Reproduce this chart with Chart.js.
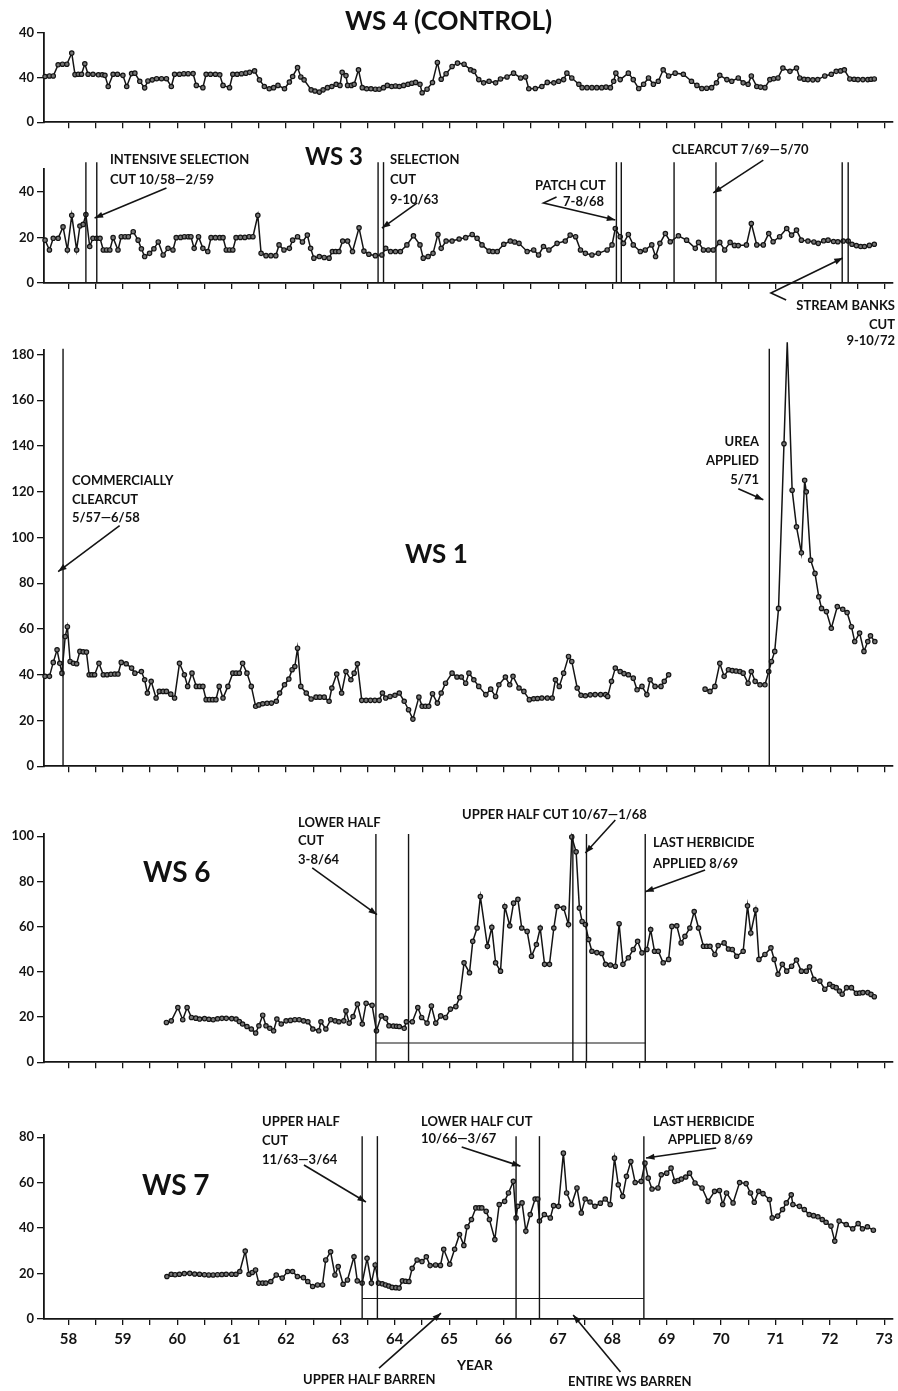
<!DOCTYPE html>
<html>
<head>
<meta charset="utf-8">
<script src="https://cdn.jsdelivr.net/npm/chart.js@4.4.1/dist/chart.umd.min.js"></script>
<style>
  body { margin: 0; background: #fff; width: 898px; height: 1391px; position: relative; overflow: hidden; font-family: Lato, 'DejaVu Sans', sans-serif; color: #111; }
  canvas { position: absolute; left: 0; }
  .t { position: absolute; font-weight: 700; font-size: 13px; line-height: 1; white-space: nowrap; }
  .r { text-align: right; }
  .big { font-size: 26px; }
</style>
</head>
<body>
<canvas id="ws4"></canvas>
<canvas id="ws3"></canvas>
<canvas id="ws1"></canvas>
<canvas id="ws6"></canvas>
<canvas id="ws7"></canvas>

<div class="t big" style="left:345px;top:7px">WS 4 (CONTROL)</div>

<div class="t big" style="left:305px;top:144px;font-size:24px">WS 3</div>
<div class="t" style="left:110px;top:153px">INTENSIVE SELECTION</div>
<div class="t" style="left:110px;top:173px">CUT 10/58—2/59</div>
<div class="t" style="left:390px;top:153px">SELECTION</div>
<div class="t" style="left:390px;top:173px">CUT</div>
<div class="t" style="left:390px;top:193px">9-10/63</div>
<div class="t" style="left:535px;top:179px">PATCH CUT</div>
<div class="t" style="left:563px;top:195px">7-8/68</div>
<div class="t" style="left:672px;top:143px">CLEARCUT 7/69—5/70</div>
<div class="t r" style="right:3px;top:299px">STREAM BANKS</div>
<div class="t r" style="right:3px;top:318px">CUT</div>
<div class="t r" style="right:3px;top:334px">9-10/72</div>

<div class="t big" style="left:405px;top:540px">WS 1</div>
<div class="t" style="left:72px;top:474px">COMMERCIALLY</div>
<div class="t" style="left:72px;top:493px">CLEARCUT</div>
<div class="t" style="left:72px;top:511px">5/57—6/58</div>
<div class="t r" style="right:139px;top:435px">UREA</div>
<div class="t r" style="right:139px;top:454px">APPLIED</div>
<div class="t r" style="right:139px;top:473px">5/71</div>

<div class="t big" style="left:143px;top:857px;font-size:28px">WS 6</div>
<div class="t" style="left:298px;top:816px">LOWER HALF</div>
<div class="t" style="left:298px;top:834px">CUT</div>
<div class="t" style="left:298px;top:853px">3-8/64</div>
<div class="t" style="left:462px;top:808px">UPPER HALF CUT 10/67—1/68</div>
<div class="t" style="left:653px;top:836px">LAST HERBICIDE</div>
<div class="t" style="left:653px;top:857px">APPLIED 8/69</div>

<div class="t big" style="left:142px;top:1170px;font-size:28px">WS 7</div>
<div class="t" style="left:262px;top:1115px">UPPER HALF</div>
<div class="t" style="left:262px;top:1134px">CUT</div>
<div class="t" style="left:262px;top:1153px">11/63—3/64</div>
<div class="t" style="left:421px;top:1115px">LOWER HALF CUT</div>
<div class="t" style="left:421px;top:1132px">10/66—3/67</div>
<div class="t" style="left:653px;top:1115px">LAST HERBICIDE</div>
<div class="t" style="left:668px;top:1133px">APPLIED 8/69</div>
<div class="t" style="left:457px;top:1358px;font-size:14px">YEAR</div>
<div class="t" style="left:303px;top:1373px">UPPER HALF BARREN</div>
<div class="t" style="left:568px;top:1375px">ENTIRE WS BARREN</div>

<script>
// year ticks (every half year, labels on whole years)
const halfYearTicks = [58, 58.5, 59, 59.5, 60, 60.5, 61, 61.5, 62, 62.5, 63, 63.5, 64, 64.5, 65, 65.5, 66, 66.5, 67, 67.5, 68, 68.5, 69, 69.5, 70, 70.5, 71, 71.5, 72, 72.5, 73];
const yearLabels = ['58', '59', '60', '61', '62', '63', '64', '65', '66', '67', '68', '69', '70', '71', '72', '73'];

const ws4Ticks = [0, 40, 80];
const ws4TickLabels = ['0', '40', '40'];
const ws3Ticks = [0, 20, 40];
const ws1Ticks = [0, 20, 40, 60, 80, 100, 120, 140, 160, 180];
const ws6Ticks = [0, 20, 40, 60, 80, 100];
const ws7Ticks = [0, 20, 40, 60, 80];

// [year, value]
const ws4Flow = [[57.57,41],[57.65,41.5],[57.72,41.5],[57.81,51.5],[57.89,52],[57.97,52],[58.06,62],[58.12,42.7],[58.18,43],[58.24,43],[58.30,52.4],[58.36,43],[58.45,43],[58.55,42.5],[58.62,42.5],[58.67,42],[58.73,32],[58.82,43],[58.90,43],[59.00,42],[59.07,32],[59.16,43.6],[59.22,44],[59.31,36.7],[59.40,30.8],[59.46,37],[59.54,38],[59.62,39],[59.71,39],[59.80,39],[59.89,32],[59.95,43],[60.04,43],[60.12,43.5],[60.20,43.5],[60.29,43.6],[60.35,33],[60.47,31],[60.53,43],[60.61,43],[60.70,43],[60.78,42.5],[60.84,33],[60.96,31],[61.02,43],[61.10,43],[61.18,43.5],[61.26,44],[61.33,44.7],[61.42,46],[61.51,38],[61.60,32],[61.69,30],[61.77,31],[61.85,33],[61.97,30],[62.06,36],[62.12,41],[62.21,49],[62.27,40.6],[62.33,38],[62.46,29],[62.53,28],[62.61,27],[62.68,29],[62.76,31],[62.84,32],[62.92,34],[62.99,33],[63.03,44.7],[63.10,41.8],[63.13,33],[63.20,33],[63.25,34],[63.33,47],[63.40,31],[63.48,30],[63.56,30],[63.64,29.6],[63.71,29.6],[63.79,31],[63.86,33],[63.94,32],[64.01,32.5],[64.08,32],[64.16,33],[64.24,34],[64.31,35],[64.38,35.7],[64.46,34],[64.50,26.4],[64.59,29.6],[64.69,35.6],[64.78,53.6],[64.85,38.5],[64.94,43.5],[65.05,50],[65.15,53],[65.27,52],[65.39,47],[65.45,45.6],[65.54,38.2],[65.63,35.3],[65.73,36.7],[65.85,35.3],[65.94,38.8],[66.06,40.6],[66.18,44],[66.31,39.7],[66.40,40.6],[66.46,30],[66.58,30.2],[66.70,32],[66.80,35.7],[66.92,35.3],[67.01,36.7],[67.10,38.2],[67.16,44],[67.25,39.7],[67.38,34],[67.44,31],[67.53,31],[67.62,31],[67.71,31],[67.80,31],[67.88,31.5],[67.96,31],[68.02,36.7],[68.06,44],[68.14,38.2],[68.29,44],[68.38,38.2],[68.48,30.2],[68.57,34],[68.66,39.7],[68.75,34],[68.84,36.7],[68.93,47],[69.03,41.5],[69.15,44],[69.30,43],[69.45,36.7],[69.55,33],[69.64,30.2],[69.73,30.5],[69.82,31],[69.91,35.3],[69.97,42],[70.10,38.2],[70.19,36.7],[70.31,39.7],[70.40,35.3],[70.49,34],[70.55,41.5],[70.65,32],[70.72,31.5],[70.80,31],[70.89,38.2],[70.96,39],[71.04,39.7],[71.13,48.6],[71.26,45.6],[71.38,48.6],[71.44,39.7],[71.52,38.5],[71.59,38.2],[71.68,38],[71.77,38.2],[71.90,41.5],[72.02,43],[72.11,45.6],[72.19,46],[72.26,47],[72.36,38.8],[72.44,38.5],[72.51,38.2],[72.60,38.2],[72.69,38.2],[72.75,38.5],[72.81,38.8]];

const ws3Flow = [[57.57,18.8],[57.65,14.5],[57.72,19.6],[57.81,19.6],[57.90,24.6],[57.98,14.5],[58.06,29.7],[58.15,14.5],[58.21,25],[58.27,25.7],[58.32,30],[58.39,16],[58.45,19.6],[58.52,19.6],[58.58,19.6],[58.64,14.5],[58.70,14.5],[58.76,14.5],[58.82,19.9],[58.91,14.5],[58.97,20.3],[59.04,20.3],[59.10,20.3],[59.19,22.5],[59.28,18.8],[59.34,15],[59.40,11.6],[59.49,13],[59.57,15],[59.65,18],[59.74,12.3],[59.83,15.2],[59.92,14.5],[59.98,19.9],[60.06,20],[60.13,20.3],[60.20,20.3],[60.25,20.3],[60.31,15.2],[60.39,20.3],[60.47,15.2],[60.56,13.8],[60.62,19.9],[60.70,19.9],[60.78,19.9],[60.84,19.9],[60.90,14.5],[60.96,14.5],[61.02,14.5],[61.08,19.9],[61.16,20],[61.24,20],[61.32,20.3],[61.39,20.3],[61.48,29.7],[61.54,13],[61.63,12],[61.72,12],[61.81,12],[61.87,16.7],[61.96,14.5],[62.06,15.2],[62.12,18.8],[62.21,20.3],[62.30,18],[62.39,21],[62.45,15.2],[62.51,10.9],[62.61,11.6],[62.70,11.2],[62.79,10.9],[62.85,13.8],[62.91,13.8],[62.97,13.8],[63.04,18.4],[63.13,18.4],[63.22,13.8],[63.34,24.2],[63.43,14],[63.52,12.6],[63.64,12],[63.76,12.3],[63.83,15.2],[63.92,13.8],[64.01,13.8],[64.10,13.8],[64.22,16.7],[64.34,20.7],[64.46,16.7],[64.52,10.9],[64.61,11.6],[64.70,13],[64.79,21.3],[64.85,15.2],[64.94,18.4],[65.05,18.4],[65.18,19.3],[65.30,19.9],[65.42,21.3],[65.51,19.6],[65.60,16.7],[65.73,14],[65.80,13.8],[65.88,13.8],[66.00,17],[66.12,18.4],[66.20,18],[66.28,17.4],[66.43,13.8],[66.55,14.5],[66.64,12.3],[66.73,16],[66.83,14.5],[66.98,17.4],[67.13,18.4],[67.22,21],[67.32,20.3],[67.41,14.5],[67.50,13],[67.62,12.3],[67.74,13],[67.90,14.5],[67.99,16.7],[68.05,23.9],[68.14,20.3],[68.20,17.4],[68.29,21.3],[68.38,16.7],[68.51,13.8],[68.60,14.5],[68.72,16.7],[68.79,11.6],[68.87,17.4],[68.97,21.7],[69.06,18.1],[69.21,20.7],[69.36,18.8],[69.52,15.2],[69.58,17.8],[69.67,14.5],[69.76,14.5],[69.85,14.5],[69.97,17.8],[70.06,14.5],[70.16,17.8],[70.24,16.5],[70.31,16.4],[70.46,16.7],[70.55,26.1],[70.65,16.7],[70.77,16.7],[70.87,21.7],[70.95,18.1],[71.07,20.3],[71.20,23.9],[71.29,21],[71.38,23.2],[71.47,18.8],[71.59,18.4],[71.70,18],[71.78,17.4],[71.88,18.5],[71.96,18.8],[72.06,18.2],[72.14,18.1],[72.24,18.4],[72.33,18.4],[72.40,17],[72.48,16.4],[72.56,16],[72.63,16],[72.72,16.5],[72.81,17]];

const ws1Flow = [[57.57,39.3],[57.65,39.3],[57.72,45.4],[57.79,50.9],[57.84,45],[57.88,40.7],[57.94,56.7],[57.98,61],[58.03,45.8],[58.09,45],[58.15,44.8],[58.21,50.2],[58.27,50],[58.33,49.9],[58.38,40],[58.43,40],[58.48,40],[58.56,45],[58.64,40],[58.71,40],[58.78,40.2],[58.85,40.3],[58.91,40.3],[58.97,45.4],[59.06,44.8],[59.16,42.9],[59.22,40.7],[59.34,41.4],[59.40,37.8],[59.45,32],[59.52,37.1],[59.61,29.8],[59.67,32.7],[59.74,32.7],[59.80,32.7],[59.88,31.5],[59.95,29.8],[60.04,45],[60.13,40],[60.19,34.9],[60.27,40.7],[60.35,34.9],[60.41,34.9],[60.47,34.9],[60.53,29.1],[60.59,29.1],[60.65,29.1],[60.71,29.1],[60.77,34.9],[60.84,29.8],[60.93,34.9],[61.02,40.7],[61.08,40.7],[61.14,40.7],[61.20,45],[61.28,40.7],[61.36,34.9],[61.44,26.2],[61.50,26.8],[61.57,27.3],[61.65,27.5],[61.73,27.6],[61.82,28.4],[61.88,32],[61.97,35.6],[62.05,38.1],[62.11,42.2],[62.16,43.6],[62.21,51.6],[62.27,34.9],[62.37,32],[62.46,29.4],[62.55,30.2],[62.62,30.2],[62.70,30.2],[62.79,28.4],[62.84,34.2],[62.93,40.3],[63.02,32],[63.10,41.4],[63.19,37.8],[63.25,40.7],[63.31,44.8],[63.39,28.8],[63.47,28.8],[63.55,28.8],[63.63,28.8],[63.71,28.8],[63.77,32],[63.83,29.8],[63.91,30.5],[64.00,31],[64.08,32],[64.17,28.4],[64.25,24.7],[64.33,20.6],[64.44,30.2],[64.50,26.2],[64.56,26.2],[64.62,26.2],[64.69,31.7],[64.78,27.6],[64.85,32],[64.93,36.3],[65.05,40.7],[65.14,39],[65.22,39],[65.30,36.3],[65.36,40.7],[65.45,37.8],[65.54,34.9],[65.67,31.3],[65.76,33.7],[65.85,30.5],[65.91,35.6],[66.03,39],[66.11,35.6],[66.17,39.3],[66.28,34.2],[66.37,32.7],[66.47,29.1],[66.55,29.5],[66.62,29.6],[66.70,29.8],[66.80,29.8],[66.89,29.8],[66.95,37.8],[67.02,34.9],[67.10,40.7],[67.19,48],[67.25,45.8],[67.35,34.2],[67.42,31],[67.50,30.8],[67.59,31.2],[67.68,31.3],[67.78,31.3],[67.87,31.3],[67.91,30.5],[67.98,37.1],[68.05,42.9],[68.14,41.4],[68.21,40.5],[68.29,40],[68.38,38.5],[68.45,33.4],[68.54,34.9],[68.63,31.3],[68.69,37.8],[68.78,34.9],[68.89,34.9],[68.95,37.1],[69.03,40],[69.35,null],[69.70,33.7],[69.79,32.7],[69.88,34.9],[69.97,45],[70.05,39.3],[70.13,42.2],[70.20,41.8],[70.27,41.6],[70.34,41.4],[70.40,40.7],[70.49,36.3],[70.55,41.4],[70.62,37.1],[70.71,35.6],[70.80,35.6],[70.87,41.4],[70.92,45.8],[70.98,50.2],[71.05,69],[71.15,141],[71.21,185.4],[71.30,120.7],[71.38,104.7],[71.47,93.3],[71.53,125],[71.56,120],[71.64,90.1],[71.72,84.3],[71.79,74.1],[71.84,69],[71.93,67.6],[72.02,60.3],[72.13,69.8],[72.23,68.6],[72.31,67.2],[72.39,61],[72.45,54.5],[72.54,58.2],[72.62,50.2],[72.69,54.5],[72.74,57],[72.82,54.5]];

const ws6Flow = [[59.80,17.6],[59.89,18.3],[60.01,24.2],[60.10,18.8],[60.18,24.2],[60.26,19.8],[60.34,19.5],[60.41,19.1],[60.50,19.3],[60.58,19],[60.66,18.8],[60.74,19.2],[60.82,19.4],[60.90,19.4],[61.00,19.3],[61.08,19.1],[61.14,18],[61.20,16.9],[61.28,15.8],[61.36,14.7],[61.44,12.9],[61.50,16.1],[61.57,20.8],[61.63,16.1],[61.70,15],[61.77,13.9],[61.83,19.1],[61.91,16.9],[62.00,18.3],[62.08,18.5],[62.16,18.8],[62.24,18.8],[62.32,18.3],[62.40,17.9],[62.49,14.7],[62.60,13.9],[62.64,17.9],[62.73,14.7],[62.82,18.8],[62.90,18.3],[62.97,17.9],[63.06,18.3],[63.10,22.7],[63.16,17.3],[63.23,20.2],[63.31,25.7],[63.40,16.9],[63.47,26.1],[63.58,25.2],[63.66,13.9],[63.75,20.5],[63.83,19.4],[63.89,16.1],[63.97,16],[64.03,15.9],[64.08,15.8],[64.17,15],[64.21,17.9],[64.32,17.9],[64.42,24.2],[64.49,19.8],[64.59,17.3],[64.67,24.9],[64.75,17.3],[64.84,20.5],[64.93,19.8],[65.02,23.5],[65.12,24.6],[65.19,28.6],[65.27,44],[65.37,39.6],[65.43,53.5],[65.51,59.4],[65.57,73.3],[65.70,51.3],[65.78,59.7],[65.85,44],[65.94,40.3],[66.02,68.9],[66.11,60.4],[66.18,70.4],[66.26,72.1],[66.33,59.4],[66.43,57.9],[66.51,46.9],[66.60,52.1],[66.67,59.4],[66.75,43.3],[66.84,43.3],[66.92,59.4],[66.98,68.9],[67.10,68.2],[67.19,60.9],[67.25,99.7],[67.33,93.1],[67.39,68.2],[67.44,62.3],[67.50,60.9],[67.56,54.3],[67.62,49.1],[67.71,48.5],[67.80,48.1],[67.87,43.3],[67.96,43],[68.05,42.5],[68.12,61.3],[68.19,43.3],[68.29,46.2],[68.38,49.9],[68.46,53.5],[68.54,48.4],[68.63,49.9],[68.70,58.7],[68.77,49.1],[68.84,49.1],[68.93,44],[69.03,45.5],[69.09,60.1],[69.18,60.4],[69.26,52.8],[69.33,55.7],[69.42,59.4],[69.50,66.7],[69.58,59.4],[69.67,51.3],[69.73,51.3],[69.79,51.3],[69.88,47.7],[69.94,51.6],[70.05,52.8],[70.13,50.1],[70.20,49.9],[70.28,46.9],[70.40,49.1],[70.48,69.2],[70.54,57.2],[70.63,67.4],[70.69,45.5],[70.80,47.7],[70.91,50.6],[70.97,45.5],[71.04,38.9],[71.12,43.3],[71.20,40.3],[71.29,42.5],[71.38,45.2],[71.47,40.3],[71.56,40.3],[71.62,42.2],[71.70,36.7],[71.81,35.9],[71.90,32.3],[71.99,34.5],[72.05,33.5],[72.11,33],[72.17,31.5],[72.22,30.1],[72.30,33],[72.39,33],[72.48,30.5],[72.54,30.6],[72.60,30.8],[72.69,30.8],[72.75,30],[72.81,29]];

const ws7Flow = [[59.81,18.7],[59.89,19.7],[59.96,19.5],[60.04,19.7],[60.13,20],[60.23,20.1],[60.32,19.8],[60.41,19.7],[60.50,19.5],[60.58,19.4],[60.66,19.4],[60.74,19.5],[60.82,19.6],[60.90,19.7],[61.00,19.7],[61.08,19.7],[61.15,20.9],[61.25,29.9],[61.32,19.7],[61.38,20.5],[61.44,21.6],[61.50,15.8],[61.57,15.8],[61.63,15.8],[61.72,16.5],[61.82,19.4],[61.93,18],[62.03,20.9],[62.12,20.9],[62.21,18.7],[62.32,18.2],[62.40,16.5],[62.49,14.3],[62.58,15],[62.67,15],[62.73,26],[62.82,29.6],[62.90,19.4],[62.96,23.1],[63.05,15.3],[63.13,17.2],[63.25,27.4],[63.31,16.8],[63.40,15.8],[63.49,26.7],[63.57,15.8],[63.64,23.8],[63.70,15.8],[63.77,15.5],[63.83,15],[63.89,14.5],[63.95,13.9],[64.02,13.8],[64.08,13.6],[64.14,16.8],[64.20,16.6],[64.26,16.5],[64.32,22.3],[64.41,26],[64.50,25.3],[64.58,27.4],[64.65,23.5],[64.75,23.8],[64.84,23.6],[64.90,30.7],[65.01,24.1],[65.10,30.7],[65.19,37.2],[65.27,32.4],[65.33,40.6],[65.41,43.8],[65.49,48.9],[65.55,48.9],[65.60,48.9],[65.68,47.4],[65.74,43.8],[65.84,35],[65.92,50.4],[66.02,51.8],[66.09,55.5],[66.18,60.6],[66.23,44.5],[66.26,49.6],[66.34,51.1],[66.41,38.7],[66.49,46],[66.58,52.8],[66.63,52.8],[66.66,43.1],[66.75,46],[66.86,44.5],[66.92,49.9],[67.01,49.6],[67.10,73],[67.16,55.5],[67.25,50.4],[67.35,57.7],[67.43,46.7],[67.50,52.8],[67.59,51.5],[67.68,49.6],[67.78,51],[67.87,52.8],[67.96,50.4],[68.04,70.8],[68.11,59.1],[68.19,54],[68.26,62.8],[68.34,69.3],[68.42,60.1],[68.53,60.6],[68.60,68.6],[68.66,62],[68.73,57.2],[68.84,57.7],[68.90,63.5],[69.00,64.2],[69.08,66.4],[69.15,60.6],[69.21,61],[69.27,61.6],[69.35,62.5],[69.42,64.2],[69.52,59.9],[69.65,57.7],[69.76,51.8],[69.88,56.2],[69.97,56.6],[70.03,50.4],[70.10,55.5],[70.22,51.1],[70.34,60.1],[70.46,59.6],[70.54,55.5],[70.61,51.4],[70.69,56.2],[70.77,55.2],[70.89,52.6],[70.94,44.5],[71.04,45.3],[71.13,48.2],[71.20,51.1],[71.29,54.7],[71.32,50.4],[71.44,49.6],[71.53,48.2],[71.62,46],[71.70,45.5],[71.78,45],[71.86,43.8],[71.93,42.6],[72.02,40.9],[72.09,34.3],[72.17,43.1],[72.30,41.6],[72.42,39.7],[72.52,42],[72.60,39.7],[72.69,40.6],[72.80,39.1]];

// treatment dates (vertical lines), barren periods and arrows, all in [year, value]
const ws3Cuts = [58.32, 58.52, 63.69, 63.79, 68.07, 68.16, 69.13, 69.90, 72.22, 72.33];
const ws1Cuts = [57.90, 70.88];
const ws6Cuts = [63.65, 64.25, 67.27, 67.52, 68.60];
const ws7Cuts = [63.40, 63.68, 66.23, 66.66, 68.58];
const ws6Barren = [63.65, 68.60];
const ws7Barren = [63.40, 68.58];

const ws3Arrows = [
    [[59.80, 41.7], [58.48, 28.5]],
    [[64.41, 35.1], [63.76, 24.1]],
    [[66.97, 37.7], [66.73, 35.1], [68.05, 27.6]],
    [[70.77, 53.9], [69.85, 39.5]],
    [[71.19, -7.5], [70.91, -4.4], [72.23, 11]],
];
const ws1Arrows = [
    [[58.94, 105.2], [57.81, 85.1]],
    [[70.31, 121.3], [70.77, 116.5]],
];
const ws6Arrows = [
    [[62.48, 86], [63.67, 65.3]],
    [[68.05, 107.2], [67.50, 92.6]],
    [[69.70, 85.1], [68.60, 75.4]],
];
const ws7Arrows = [
    [[62.33, 67.8], [63.47, 51.5]],
    [[65.23, 75.7], [66.31, 67.3]],
    [[69.91, 75.3], [68.62, 70.9]],
    [[63.71, -21.6], [64.85, 2.6]],
    [[68.15, -23.3], [67.28, 1.8]],
];

const INK = '#141414';

const marks = {
    id: 'marks',
    afterDatasetsDraw(chart, args, o) {
        const { ctx, scales: { x, y } } = chart;
        ctx.save();
        ctx.strokeStyle = INK;
        ctx.fillStyle = INK;
        ctx.lineWidth = 1.4;
        (o.cuts || []).forEach((c) => {
            const px = x.getPixelForValue(c);
            ctx.beginPath();
            ctx.moveTo(px, y.getPixelForValue(0));
            ctx.lineTo(px, y.getPixelForValue(o.cutTop));
            ctx.stroke();
        });
        if (o.barren) {
            ctx.lineWidth = 1.1;
            const py = y.getPixelForValue(o.barrenLevel);
            ctx.beginPath();
            ctx.moveTo(x.getPixelForValue(o.barren[0]), py);
            ctx.lineTo(x.getPixelForValue(o.barren[1]), py);
            ctx.stroke();
        }
        ctx.lineWidth = 1.6;
        (o.arrows || []).forEach((path) => {
            const pts = path.map(([a, b]) => [x.getPixelForValue(a), y.getPixelForValue(b)]);
            ctx.beginPath();
            pts.forEach(([px, py], i) => (i ? ctx.lineTo(px, py) : ctx.moveTo(px, py)));
            ctx.stroke();
            const [hx, hy] = pts[pts.length - 1];
            const [tx, ty] = pts[pts.length - 2];
            const ang = Math.atan2(hy - ty, hx - tx);
            ctx.beginPath();
            ctx.moveTo(hx, hy);
            ctx.lineTo(hx - 9 * Math.cos(ang - 0.35), hy - 9 * Math.sin(ang - 0.35));
            ctx.lineTo(hx - 9 * Math.cos(ang + 0.35), hy - 9 * Math.sin(ang + 0.35));
            ctx.closePath();
            ctx.fill();
        });
        ctx.restore();
    },
};

const tickFont = { family: 'Lato, "DejaVu Sans", sans-serif', weight: 'bold', size: 13 };

function panel(id, p) {
    const canvas = document.getElementById(id);
    const padTop = 30;
    canvas.width = 898;
    canvas.height = (p.bottom - p.top) + padTop + p.below;
    canvas.style.top = (p.top - padTop) + 'px';
    const labels = p.labels || p.ticks.map(String);
    new Chart(canvas, {
        type: 'line',
        data: { datasets: [{
            data: p.data.map(([a, b]) => ({ x: a, y: b })),
            borderColor: INK, borderWidth: 1.5, tension: 0, spanGaps: false, clip: false,
            pointRadius: 2.2, pointBorderWidth: 1.2, pointBorderColor: INK, pointBackgroundColor: '#777',
        }] },
        options: {
            responsive: false, animation: false, events: [],
            layout: { padding: { top: padTop, right: 3, left: 0, bottom: 0 } },
            plugins: {
                legend: { display: false }, tooltip: { enabled: false },
                marks: { cuts: p.cuts, cutTop: p.cutTop, barren: p.barren, barrenLevel: p.barrenLevel, arrows: p.arrows },
            },
            scales: {
                x: {
                    type: 'linear', min: 57.55, max: 73.15,
                    afterFit: (s) => { s.height = p.below; },
                    afterBuildTicks: (s) => { s.ticks = halfYearTicks.map((v) => ({ value: v })); },
                    grid: { drawOnChartArea: false, tickLength: 6, color: INK, lineWidth: 1.3 },
                    border: { color: INK, width: 1.8 },
                    ticks: {
                        autoSkip: false, maxRotation: 0, padding: 5, color: INK,
                        font: { ...tickFont, size: 15 },
                        callback: (v) => (p.years && Number.isInteger(v) ? yearLabels[v - 58] : ''),
                    },
                },
                y: {
                    min: 0, max: p.max,
                    afterFit: (s) => { s.width = 44; },
                    afterBuildTicks: (s) => { s.ticks = p.ticks.map((v) => ({ value: v })); },
                    grid: { drawOnChartArea: false, tickLength: 7, color: INK, lineWidth: 1.3 },
                    border: { color: INK, width: 1.8 },
                    ticks: { padding: 3, color: INK, font: tickFont, callback: (v, i) => labels[i] },
                },
            },
        },
        plugins: [marks],
    });
}

function init() {
    if (typeof Chart === 'undefined') return;
    panel('ws4', { top: 33, bottom: 123, max: 80, ticks: ws4Ticks, labels: ws4TickLabels, data: ws4Flow, below: 10 });
    panel('ws3', { top: 169, bottom: 283, max: 50, ticks: ws3Ticks, data: ws3Flow, below: 70, cuts: ws3Cuts, cutTop: 53, arrows: ws3Arrows });
    panel('ws1', { top: 350, bottom: 767, max: 182, ticks: ws1Ticks, data: ws1Flow, below: 10, cuts: ws1Cuts, cutTop: 182.5, arrows: ws1Arrows });
    panel('ws6', { top: 834, bottom: 1063, max: 101, ticks: ws6Ticks, data: ws6Flow, below: 10, cuts: ws6Cuts, cutTop: 101, barren: ws6Barren, barrenLevel: 8.5, arrows: ws6Arrows });
    panel('ws7', { top: 1135, bottom: 1319, max: 81, ticks: ws7Ticks, data: ws7Flow, below: 70, cuts: ws7Cuts, cutTop: 80.5, barren: ws7Barren, barrenLevel: 9, arrows: ws7Arrows, years: true });
}

if (document.readyState === 'loading') document.addEventListener('DOMContentLoaded', init); else init();
</script>
</body>
</html>
